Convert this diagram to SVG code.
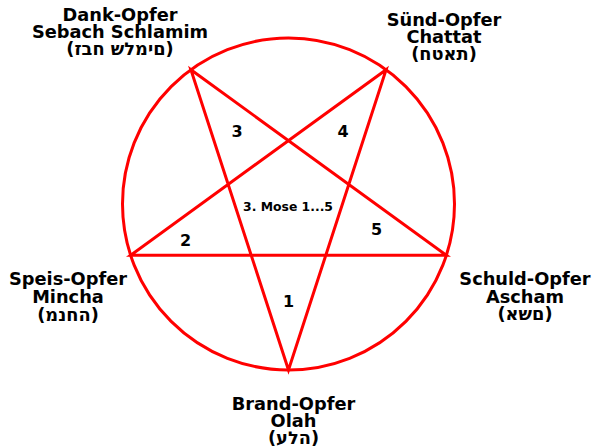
<svg xmlns="http://www.w3.org/2000/svg" width="592" height="448" viewBox="0 0 592 448">
<style>
.lbl{font-family:"DejaVu Sans","Noto Sans",sans-serif;font-weight:bold;font-size:17.8px;fill:#000;text-anchor:middle}
.num{font-family:"DejaVu Sans",sans-serif;font-weight:bold;font-size:16px;fill:#000;text-anchor:middle}
.mid{font-family:"DejaVu Sans",sans-serif;font-weight:bold;font-size:12.4px;fill:#000;text-anchor:middle}
.ln{fill:none;stroke:#ff0000;stroke-width:3}
</style>
<rect width="592" height="448" fill="#fff"/>
<g id="connectors">
<circle class="ln" cx="288.5" cy="204" r="166"/>
<polygon class="ln" stroke-linejoin="miter" points="288.5,370 190.9,69.7 446.4,255.3 130.6,255.3 386.1,69.7"/>
</g>
<g id="center"><text class="mid" x="288" y="211">3. Mose 1...5</text></g>
<g id="numbers">
<text class="num" x="288.5" y="307">1</text>
<text class="num" x="185.5" y="246">2</text>
<text class="num" x="237" y="137">3</text>
<text class="num" x="343" y="137">4</text>
<text class="num" x="376.5" y="235">5</text>
</g>
<g id="dank">
<text class="lbl" x="120" y="20.7">Dank-Opfer</text>
<text class="lbl" x="120" y="38">Sebach Schlamim</text>
<text class="lbl" x="120" y="55">(םימלש חבז)</text>
</g>
<g id="suend">
<text class="lbl" x="444" y="26">Sünd-Opfer</text>
<text class="lbl" x="444" y="43">Chattat</text>
<text class="lbl" x="444" y="60">(תאטח)</text>
</g>
<g id="speis">
<text class="lbl" x="68" y="285">Speis-Opfer</text>
<text class="lbl" x="68" y="303">Mincha</text>
<text class="lbl" x="68" y="321">(החנמ)</text>
</g>
<g id="schuld">
<text class="lbl" x="525" y="285">Schuld-Opfer</text>
<text class="lbl" x="525" y="303">Ascham</text>
<text class="lbl" x="525" y="320">(םשא)</text>
</g>
<g id="brand">
<text class="lbl" x="293.5" y="410">Brand-Opfer</text>
<text class="lbl" x="293.5" y="427">Olah</text>
<text class="lbl" x="293.5" y="444">(הלע)</text>
</g>
</svg>
